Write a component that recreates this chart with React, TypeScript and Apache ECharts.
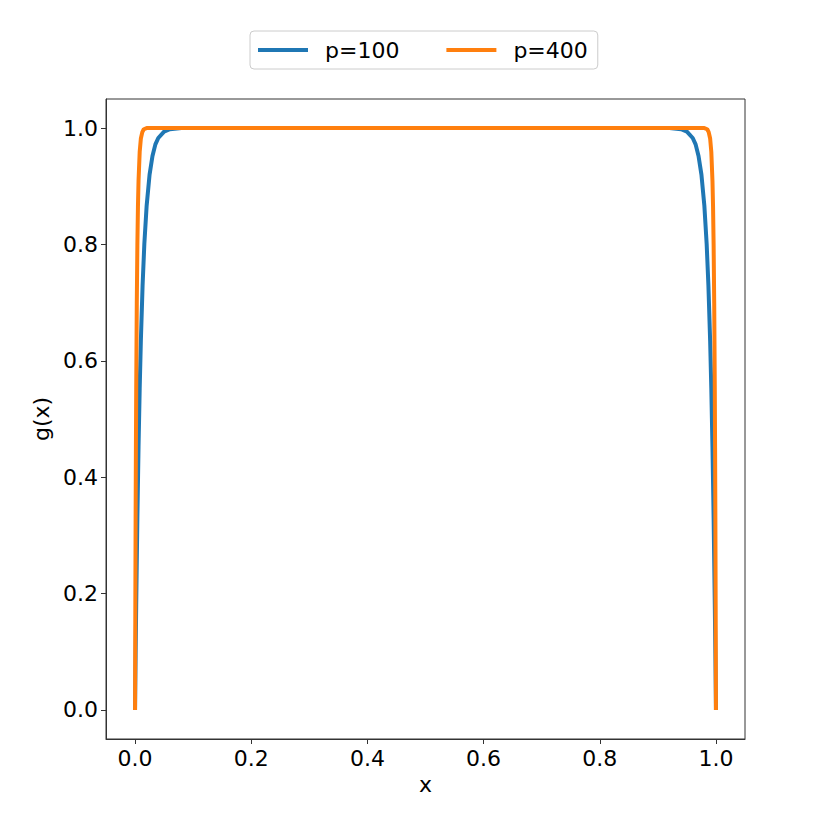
import React, { useEffect, useRef } from "react";
import * as echarts from "echarts";

const p100X = [0, 0.001, 0.002, 0.004, 0.006, 0.008, 0.01, 0.013, 0.016, 0.02, 0.025, 0.03, 0.035, 0.04, 0.05, 0.06, 0.08, 0.1,
  0.9, 0.92, 0.94, 0.95, 0.96, 0.965, 0.97, 0.975, 0.98, 0.984, 0.987, 0.99, 0.992, 0.994, 0.996, 0.998, 0.999, 1.0];
const p100Y = [0, 0.095, 0.181, 0.330, 0.452, 0.552, 0.634, 0.730, 0.801, 0.867, 0.920, 0.952, 0.972, 0.983, 0.994, 0.998, 1.0, 1.0,
  1.0, 1.0, 0.998, 0.994, 0.983, 0.972, 0.952, 0.920, 0.867, 0.801, 0.730, 0.634, 0.552, 0.452, 0.330, 0.181, 0.095, 0];

const p400X = [0, 0.0005, 0.001, 0.0015, 0.002, 0.003, 0.004, 0.005, 0.006, 0.008, 0.01, 0.0125, 0.015, 0.02, 0.03,
  0.97, 0.98, 0.985, 0.9875, 0.99, 0.992, 0.994, 0.995, 0.996, 0.997, 0.998, 0.9985, 0.999, 0.9995, 1.0];
const p400Y = [0, 0.181, 0.330, 0.451, 0.551, 0.699, 0.798, 0.865, 0.909, 0.959, 0.982, 0.993, 0.998, 1.0, 1.0,
  1.0, 1.0, 0.998, 0.993, 0.982, 0.959, 0.909, 0.865, 0.798, 0.699, 0.551, 0.451, 0.330, 0.181, 0];

const tickValues = [0, 0.2, 0.4, 0.6, 0.8, 1.0];
const seriesNames = ["p=100", "p=400"];
const colors = ["#1f77b4", "#ff7f0e"];

const FONT = "DejaVu Sans";

export default function App() {
  const ref = useRef<HTMLDivElement>(null);
  useEffect(() => {
    if (!ref.current) return;
    const chart = echarts.init(ref.current, undefined, { renderer: "svg" });
    const axisCommon = {
      type: "value" as const,
      min: -0.05,
      max: 1.05,
      splitLine: { show: false },
      axisLine: { show: true, onZero: false, lineStyle: { color: "#333", width: 1 } },
      axisTick: { show: true, customValues: tickValues, length: 5, lineStyle: { color: "#333" } },
      axisLabel: {
        customValues: tickValues,
        formatter: (v: number) => v.toFixed(1),
        fontFamily: FONT,
        fontSize: 22,
        color: "#000",
      },
      nameTextStyle: { fontFamily: FONT, fontSize: 22, color: "#000" },
    };
    chart.setOption({
      animation: false,
      backgroundColor: "#fff",
      grid: {
        left: 106,
        right: 85,
        top: 99,
        bottom: 91,
        show: true,
        borderColor: "#333",
        borderWidth: 1,
        backgroundColor: "transparent",
      },
      legend: {
        top: 31,
        left: 250,
        data: seriesNames,
        icon: "rect",
        itemWidth: 50,
        itemHeight: 4,
        itemGap: 47,
        padding: [8, 10, 8, 8],
        borderColor: "#ccc",
        borderWidth: 1,
        borderRadius: 4,
        textStyle: { fontFamily: FONT, fontSize: 22, color: "#000", padding: [0, 0, 0, 12] },
      },
      xAxis: {
        ...axisCommon,
        name: "x",
        nameLocation: "middle",
        nameGap: 27,
        axisLabel: { ...axisCommon.axisLabel, margin: 8 },
      },
      yAxis: {
        ...axisCommon,
        name: "g(x)",
        nameLocation: "middle",
        nameGap: 54,
        axisLabel: { ...axisCommon.axisLabel, margin: 8 },
      },
      series: [
        {
          name: seriesNames[0],
          type: "line",
          data: p100X.map((x, i) => [x, p100Y[i]]),
          showSymbol: false,
          symbol: "none",
          lineStyle: { color: colors[0], width: 4 },
          itemStyle: { color: colors[0] },
          z: 2,
        },
        {
          name: seriesNames[1],
          type: "line",
          data: p400X.map((x, i) => [x, p400Y[i]]),
          showSymbol: false,
          symbol: "none",
          lineStyle: { color: colors[1], width: 4 },
          itemStyle: { color: colors[1] },
          z: 3,
        },
      ],
    });
    return () => chart.dispose();
  }, []);
  return <div ref={ref} style={{ position: "fixed", left: 0, top: 0, width: 830, height: 830 }} />;
}
